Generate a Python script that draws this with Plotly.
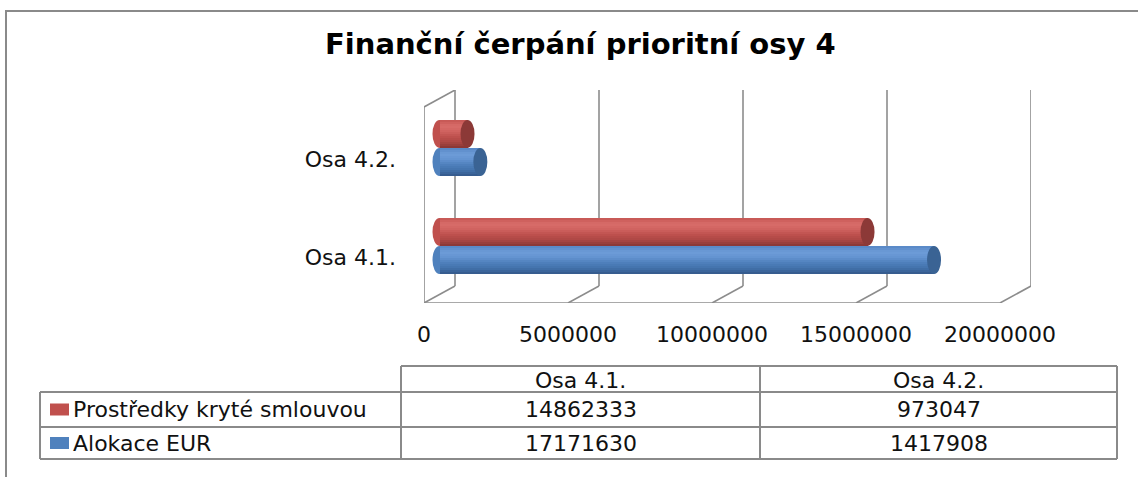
import plotly.graph_objects as go

# ---------------------------------------------------------------------------
# Data
# ---------------------------------------------------------------------------
categories = ["Osa 4.1.", "Osa 4.2."]
prostredky = [14862333, 973047]      # Prostředky kryté smlouvou
alokace = [17171630, 1417908]        # Alokace EUR
series_names = ["Prostředky kryté smlouvou", "Alokace EUR"]
x_ticks = [0, 5000000, 10000000, 15000000, 20000000]
title_text = "Finanční čerpání prioritní osy 4"

W, H = 1138, 477
_TXT = "#111111"
_LINE = "#8c8c8c"
_FONT = "DejaVu Sans"

# cylinder shading stops, top -> bottom
_BLUE_STOPS = ["#5a8ac8", "#6e9cd8", "#6393d0", "#4f80bc", "#4373ad", "#365c8f"]
_RED_STOPS = ["#c85a57", "#d96d6a", "#cf625f", "#be514e", "#ad4744", "#8c3836"]
_BLUE_CAP, _RED_CAP = "#3a6394", "#8c3937"
_BLUE_MID, _RED_MID = "#4f81bd", "#c0504d"
N_STRIPS = 14

# geometry (pixels of the 1138x477 page)
PX_L, PX_R = 424, 1031          # plot area left/right
PX_T, PX_B = 90, 303            # plot area top/bottom
DX, DY = 31, 17                 # 3d depth offset
X_PER_PX = x_ticks[-1] / 576.0  # data units per pixel
Y_PER_PX = 1 / 98.0             # one category step = 98 px
Y_BOTTOM = -0.582

d_x = DX * X_PER_PX
d_y = DY * Y_PER_PX
y_top = Y_BOTTOM + (PX_B - PX_T) * Y_PER_PX
bar_h = 28 * Y_PER_PX
cap_rx = 7 * X_PER_PX


def fx(px):
    return px / W


def fy(py):
    return 1 - py / H


def _hex(c):
    return [int(c[i:i + 2], 16) for i in (1, 3, 5)]


def shade(stops, n):
    """Spread a few colour stops over n strips (cylinder look)."""
    out = []
    for k in range(n):
        t = k / (n - 1) * (len(stops) - 1)
        i = min(int(t), len(stops) - 2)
        f = t - i
        a, b = _hex(stops[i]), _hex(stops[i + 1])
        out.append("rgb(%d,%d,%d)" % tuple(round(a[j] + (b[j] - a[j]) * f) for j in range(3)))
    return out


fig = go.Figure()
shapes = []
annotations = []

# 3d frame: back wall grid, floor diagonals, left wall
frame = dict(color=_LINE, width=1.6)
for v in x_ticks:
    shapes.append(dict(type="line", xref="x", yref="y", x0=v, y0=Y_BOTTOM, x1=v + d_x, y1=Y_BOTTOM + d_y,
                       line=frame, layer="below"))
    shapes.append(dict(type="line", xref="x", yref="y", x0=v + d_x, y0=Y_BOTTOM + d_y, x1=v + d_x, y1=y_top,
                       line=frame, layer="below"))
shapes.append(dict(type="line", xref="x", yref="y", x0=x_ticks[0], y0=Y_BOTTOM, x1=x_ticks[-1], y1=Y_BOTTOM,
                   line=frame, layer="below"))
shapes.append(dict(type="line", xref="x", yref="y", x0=0, y0=Y_BOTTOM, x1=0, y1=y_top - d_y,
                   line=frame, layer="below"))
shapes.append(dict(type="line", xref="x", yref="y", x0=0, y0=y_top - d_y, x1=d_x, y1=y_top,
                   line=frame, layer="below"))

# cylinders
strip_h = bar_h / N_STRIPS
base = d_x / 2
series = [
    (prostredky, +0.143, shade(_RED_STOPS, N_STRIPS), _RED_CAP, _RED_MID, series_names[0]),
    (alokace, -0.143, shade(_BLUE_STOPS, N_STRIPS), _BLUE_CAP, _BLUE_MID, series_names[1]),
]
for values, off, strips, cap, mid, name in series:
    for k, col in enumerate(strips):
        s_off = bar_h / 2 - strip_h * (k + 0.5)
        fig.add_trace(go.Bar(
            y=[i + off + s_off for i in range(len(categories))],
            x=values,
            base=base,
            width=strip_h * 1.3,
            orientation="h",
            marker=dict(color=col, line=dict(width=0)),
            name=name,
            showlegend=False,
            hovertemplate=f"{name}<br>%{{x:,.0f}}<extra></extra>",
        ))
    for i, v in enumerate(values):
        yc = i + off
        shapes.append(dict(type="circle", xref="x", yref="y",
                           x0=base - cap_rx, x1=base + cap_rx, y0=yc - bar_h / 2, y1=yc + bar_h / 2,
                           fillcolor=mid, line=dict(width=0), layer="below"))
        shapes.append(dict(type="circle", xref="x", yref="y",
                           x0=base + v - cap_rx, x1=base + v + cap_rx, y0=yc - bar_h / 2, y1=yc + bar_h / 2,
                           fillcolor=cap, line=dict(width=0), layer="above"))

# outer chart border
shapes.append(dict(type="rect", xref="paper", yref="paper", x0=fx(6), y0=fy(490), x1=fx(1150), y1=fy(11),
                   line=dict(color="#8a8a8a", width=2)))

# data table
T_L, T_C1, T_C2, T_R = 40, 401, 760, 1117
R_TOP, R1, R2, R_BOT = 366, 392, 427, 459
tl = dict(color="#8a8a8a", width=2)
for y in (R1, R2, R_BOT):
    shapes.append(dict(type="line", xref="paper", yref="paper", x0=fx(T_L), x1=fx(T_R), y0=fy(y), y1=fy(y), line=tl))
shapes.append(dict(type="line", xref="paper", yref="paper", x0=fx(T_C1), x1=fx(T_R), y0=fy(R_TOP), y1=fy(R_TOP), line=tl))
shapes.append(dict(type="line", xref="paper", yref="paper", x0=fx(T_L), x1=fx(T_L), y0=fy(R1), y1=fy(R_BOT), line=tl))
for x in (T_C1, T_C2, T_R):
    shapes.append(dict(type="line", xref="paper", yref="paper", x0=fx(x), x1=fx(x), y0=fy(R_TOP), y1=fy(R_BOT), line=tl))

cell_font = dict(family=_FONT, size=22, color=_TXT)
col_centers = [(T_C1 + T_C2) / 2, (T_C2 + T_R) / 2]
for c, cat in zip(col_centers, categories):
    annotations.append(dict(x=fx(c), y=fy((R_TOP + R1) / 2 + 1), xref="paper", yref="paper", text=cat,
                            xanchor="center", yanchor="middle", showarrow=False, font=cell_font))

table_rows = [(series_names[0], prostredky, _RED_MID), (series_names[1], alokace, _BLUE_MID)]
for (label, vals, col), (y0, y1) in zip(table_rows, [(R1, R2), (R2, R_BOT)]):
    yc = (y0 + y1) / 2
    shapes.append(dict(type="rect", xref="paper", yref="paper", x0=fx(50), x1=fx(69), y0=fy(yc + 6), y1=fy(yc - 6),
                       fillcolor=col, line=dict(width=0)))
    annotations.append(dict(x=fx(71), y=fy(yc), xref="paper", yref="paper", text=label,
                            xanchor="left", yanchor="middle", showarrow=False, font=cell_font))
    for c, v in zip(col_centers, vals):
        annotations.append(dict(x=fx(c), y=fy(yc), xref="paper", yref="paper", text=str(v),
                                xanchor="center", yanchor="middle", showarrow=False, font=cell_font))

# title
annotations.append(dict(x=fx(580), y=fy(44), xref="paper", yref="paper", text=f"<b>{title_text}</b>",
                        xanchor="center", yanchor="middle", showarrow=False,
                        font=dict(family=_FONT, size=29, color="#000000")))

fig.update_layout(
    width=W, height=H,
    margin=dict(l=0, r=0, t=0, b=0),
    paper_bgcolor="white", plot_bgcolor="rgba(0,0,0,0)",
    barmode="overlay", bargap=0,
    showlegend=False,
    shapes=shapes,
    annotations=annotations,
    xaxis=dict(
        domain=[fx(PX_L), fx(PX_R)],
        range=[0, x_ticks[-1] + d_x],
        tickvals=x_ticks, ticktext=[str(v) for v in x_ticks],
        showgrid=False, zeroline=False, showline=False,
        ticks="", ticklabelstandoff=16,
        tickfont=dict(family=_FONT, size=22, color=_TXT),
        automargin=False, fixedrange=True,
    ),
    yaxis=dict(
        domain=[fy(PX_B), fy(PX_T)],
        range=[Y_BOTTOM, y_top],
        tickvals=[i - 0.12 for i in range(len(categories))], ticktext=categories,
        showgrid=False, zeroline=False, showline=False,
        ticks="", ticklabelstandoff=27,
        tickfont=dict(family=_FONT, size=22, color=_TXT),
        automargin=False, fixedrange=True,
    ),
)

# the page body has a default 8px margin; drop it so the figure sits at 0,0
fig.write_html("out.html", config={"displayModeBar": False},
               post_script="document.body.style.margin='0';")
